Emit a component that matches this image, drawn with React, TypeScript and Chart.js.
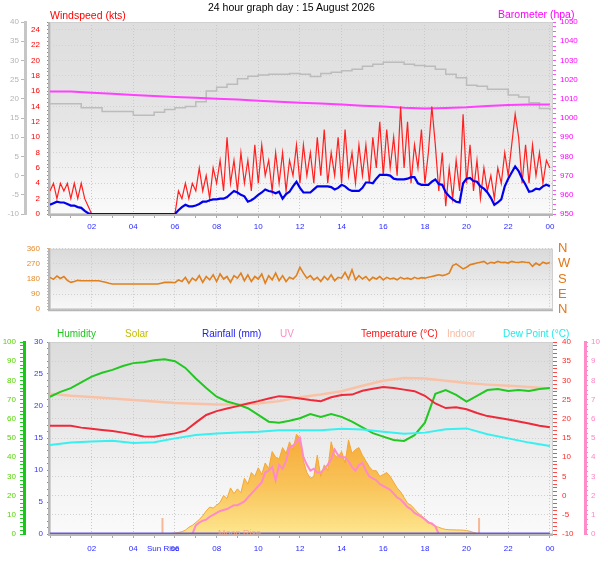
import { useEffect, useRef } from 'react';
import { Chart, registerables } from 'chart.js';

Chart.register(...registerables);

const FONT = "'Liberation Sans', Arial, sans-serif";

// tick labels
const timeLabels = ['02', '04', '06', '08', '10', '12', '14', '16', '18', '20', '22', '00'];
const compassLabels = ['N', 'E', 'S', 'W', 'N'];

// 10 minute samples from 00:00 to 24:00
const windGust = [
  3, 4, 2, 4, 3, 4, 2, 4, 2, 4, 2, 1,
  0, 0, 0, 0, 0, 0, 0, 0, 0, 0, 0, 0,
  0, 0, 0, 0, 0, 0, 0, 0, 0, 0, 0, 0,
  0, 3, 2, 4, 2, 4, 3, 6, 3, 5, 2, 6,
  4, 7, 3, 10, 4, 7, 3, 8, 4, 7, 3, 9,
  4, 9, 5, 7, 3, 8, 4, 8, 3, 7, 5, 9,
  4, 9, 5, 8, 4, 10, 5, 11, 4, 8, 5, 10,
  4, 11, 5, 8, 4, 9, 5, 9, 4, 10, 6, 12,
  5, 11, 6, 10, 5, 14, 6, 12, 4, 9, 6, 11,
  4, 8, 14, 9, 3, 8, 1, 6, 2, 7, 3, 13,
  4, 9, 3, 7, 2, 6, 3, 5, 2, 6, 4, 8,
  5, 9, 13, 10, 4, 9, 4, 9, 5, 8, 4, 7,
  6,
];
const windAvg = [
  1.2, 1.4, 1.6, 1.5, 1.5, 1.3, 1.1, 1.1, 0.9, 0.8, 0.4, 0.1,
  0, 0, 0, 0, 0, 0, 0, 0, 0, 0, 0, 0,
  0, 0, 0, 0, 0, 0, 0, 0, 0, 0, 0, 0,
  0, 0.5, 0.9, 1.2, 1.0, 1.0, 1.1, 1.3, 1.6, 1.6, 1.8, 1.9,
  1.9, 2.0, 2.0, 2.2, 2.6, 3.0, 2.8, 2.5, 2.3, 1.6, 1.8, 2.1,
  2.5, 2.8, 3.2, 3.0, 2.9, 2.7, 2.9, 2.0, 2.6, 2.9, 3.6, 4.2,
  3.4, 2.8, 2.8, 2.8, 3.2, 3.6, 3.6, 3.6, 3.6, 3.5, 3.2, 3.4,
  3.8, 3.6, 3.2, 3.0, 3.0, 3.0, 3.4, 4.1, 4.1, 4.0, 4.6, 5.1,
  5.1, 5.1, 5.0, 4.6, 4.5, 4.5, 4.5, 4.6, 4.8, 4.8, 4.0, 3.8,
  3.8, 3.8, 4.2, 4.5, 3.9, 3.8, 2.8, 2.3, 1.9, 1.6, 1.5, 4.0,
  4.6, 4.7, 4.3, 4.2, 3.6, 3.3, 2.8, 2.1, 1.2, 1.5, 1.9, 3.6,
  4.6, 5.4, 6.2, 5.6, 4.6, 3.8, 2.9, 3.0, 3.3, 3.2, 3.6, 3.8,
  3.6,
];
const windDir = [
  190, 178, 198, 183, 195, 172, 160, 165, 172, 170, 170, 170,
  170, 170, 170, 165, 161, 155, 150, 150, 150, 150, 150, 150,
  150, 150, 150, 150, 150, 150, 150, 150, 155, 160, 160, 160,
  158, 175, 165, 190, 155, 185, 170, 200, 160, 195, 175, 205,
  165, 210, 180, 195, 160, 200, 185, 215, 170, 205, 165, 195,
  180, 210, 155, 200, 175, 215, 170, 200, 165, 190, 180, 200,
  250, 215, 185, 200, 175, 190, 165, 195, 175, 205, 170, 190,
  185, 220, 180, 235, 175, 200, 180, 195, 170, 190, 180, 195,
  175, 190, 180, 185, 175, 190, 180, 185, 178, 190, 182, 188,
  185, 190, 195, 200, 205, 200, 205, 215, 260, 270, 255, 240,
  250, 265, 270, 275, 280, 285, 270, 280, 275, 285, 278, 280,
  275, 285, 280, 278, 283, 280, 278, 255, 275, 262, 280, 272,
  278,
];
const solar = [
  0, 0, 0, 0, 0, 0, 0, 0, 0, 0, 0, 0,
  0, 0, 0, 0, 0, 0, 0, 0, 0, 0, 0, 0,
  0, 0, 0, 0, 0, 0, 0, 0, 0, 0, 0, 3,
  5, 8, 12, 20, 35, 45, 60, 75, 95, 120, 140, 135,
  150, 165, 200, 185, 240, 210, 235, 215, 290, 260, 320, 300,
  345, 310, 370, 340, 430, 400, 390, 450, 420, 480, 440, 520,
  500, 380, 320, 290, 300, 410, 300, 360, 330, 480, 410, 400,
  430, 370, 490, 420, 440, 450, 410, 380, 350, 330, 330, 300,
  310, 320, 300, 270, 240, 220, 190, 160, 150, 130, 110, 95,
  80, 65, 50, 40, 35, 28, 24, 22, 22, 21, 21, 20,
  18, 14, 8, 3, 0, 0, 0, 0, 0, 0, 0, 0,
  0, 0, 0, 0, 0, 0, 0, 0, 0, 0, 0, 0,
  0,
];
const uvIndex = [
  0, 0, 0, 0, 0, 0, 0, 0, 0, 0, 0, 0,
  0, 0, 0, 0, 0, 0, 0, 0, 0, 0, 0, 0,
  0, 0, 0, 0, 0, 0, 0, 0, 0, 0, 0, 0,
  0, 0, 0, 0, 0, 0, 0.45, 0.6, 0.7, 0.75, 0.9, 1.0,
  1.1, 1.2, 1.25, 1.3, 1.4, 1.5, 1.5, 1.6, 1.7, 1.9, 2.1, 2.3,
  2.5, 2.7, 3.2, 3.3, 3.5, 2.8, 3.6, 3.4, 3.8, 4.5, 4.6, 4.8,
  5.0, 4.0, 3.6, 3.3, 3.4, 3.2, 3.2, 3.4, 3.6, 3.9, 4.4, 4.1,
  4.0, 4.0, 3.8, 3.5, 3.3, 3.6, 3.7, 3.3, 3.0, 2.9, 2.8, 2.6,
  2.5, 2.4, 2.3, 2.1, 1.9, 1.8, 1.6, 1.4, 1.3, 1.1, 1.0, 0.9,
  0.75, 0.6, 0.55, 0.4, 0, 0, 0, 0, 0, 0, 0, 0,
  0, 0, 0, 0, 0, 0, 0, 0, 0, 0, 0, 0,
  0, 0, 0, 0, 0, 0, 0, 0, 0, 0, 0, 0,
  0,
];

// 30 minute samples
const outTempTrace = [
  18.7, 18.7, 18.7, 17.7, 17.7, 16.7, 16.7, 16.7, 15.7, 15.7, 16.5, 17.2,
  17.7, 18.0, 19.2, 22.0, 23.0, 23.8, 25.2, 25.9, 26.2, 26.4, 26.4, 26.6,
  26.4, 25.8, 26.6, 26.9, 27.3, 27.7, 28.5, 29.0, 29.5, 29.5, 29.0, 28.7,
  28.5, 27.7, 26.4, 25.5, 23.5, 23.3, 22.5, 22.5, 21.0, 20.5, 19.0, 17.5,
  17.0,
];
const humidity = [
  71.5, 74, 76, 79, 82, 84, 85.5, 87.5, 89, 89.5, 90.5, 91,
  90, 86.5, 81, 76, 71.5, 69, 67.5, 65.5, 62, 58.5, 58, 59,
  60.3, 62.5, 61, 62.5, 61, 58.5, 55.5, 52.5, 50.7, 49, 48.5, 51.5,
  58, 73, 75, 72.5, 69, 72, 75, 75.5, 74.5, 75, 74.5, 75.5,
  76,
];
const temperature = [
  18.2, 18.2, 18.2, 17.7, 17.4, 17.1, 16.8, 16.4, 15.9, 15.4, 15.3, 15.8,
  16.2, 16.9, 19.0, 21.0, 22.0, 22.7, 23.3, 24.0, 24.6, 25.3, 25.9, 25.7,
  25.3, 24.9, 24.6, 25.6, 26.2, 26.3, 27.3, 27.8, 28.3, 28.0, 27.6, 27.2,
  26.0, 24.0, 22.8, 23.0, 22.5, 21.5, 20.7, 20.3, 19.8, 19.3, 18.8, 18.2,
  17.8,
];

// hourly samples
const barometer = [
  1013.8, 1013.8, 1013.2, 1012.6, 1012.0, 1011.4, 1011.0, 1010.5, 1010.0, 1009.6, 1009.0, 1008.5,
  1008.0, 1007.5, 1007.0, 1006.4, 1006.0, 1005.3, 1005.0, 1005.2, 1005.6, 1006.3, 1006.8, 1007.0,
  1007.0,
];
const indoorTemp = [
  26.5, 26.0, 25.7, 25.3, 24.9, 24.5, 24.1, 23.9, 23.7, 23.7, 24.0, 24.6,
  25.6, 26.3, 27.2, 28.6, 29.9, 30.6, 30.5, 29.9, 29.3, 28.9, 28.6, 28.3,
  27.9,
];
const dewPoint = [
  13.2, 13.8, 14.1, 14.3, 13.7, 13.9, 14.9, 15.8, 16.2, 16.4, 16.6, 17.0,
  17.0, 17.0, 17.4, 17.2, 16.6, 16.1, 16.4, 17.3, 17.5, 16.0, 14.9, 13.8,
  12.9,
];
const rainfall = [
  0, 0, 0, 0, 0, 0, 0, 0, 0, 0, 0, 0,
  0, 0, 0, 0, 0, 0, 0, 0, 0, 0, 0, 0,
  0,
];

// sunrise / sunset, hours
const sunEvents = [5.4, 20.6];

const legendNames = ['Humidity', 'Solar', 'Rainfall (mm)', 'UV', 'Temperature (°C)', 'Indoor', 'Dew Point (°C)'];
const legendColors = ['#1fc41f', '#c4bc00', '#2020f0', '#ff8cc8', '#ff1414', '#f8bba0', '#22eaea'];
const legendLeft = [57, 125, 202, 280, 361, 447, 503];

const pts = (values: number[], minutes: number) =>
  values.map((v, i) => ({ x: (i * minutes) / 60, y: v }));

const multipleOf = (v: number, n: number) => Math.abs(v / n - Math.round(v / n)) < 1e-6;

const panelBackground = (stops: [number, string][]) => ({
  id: 'panelBackground',
  beforeDraw(chart: Chart) {
    const { ctx, chartArea: a } = chart;
    const g = ctx.createLinearGradient(0, a.top, 0, a.bottom);
    stops.forEach(([o, c]) => g.addColorStop(o, c));
    ctx.save();
    ctx.fillStyle = g;
    ctx.fillRect(a.left, a.top, a.width, a.height);
    ctx.restore();
  },
  beforeDatasetsDraw(chart: Chart) {
    const { ctx, chartArea: a } = chart;
    ctx.save();
    ctx.strokeStyle = '#d0d0d0';
    ctx.lineWidth = 1;
    ctx.strokeRect(a.left + 0.5, a.top + 0.5, a.width - 1, a.height - 1);
    ctx.strokeStyle = '#b6b6b6';
    ctx.lineWidth = 2;
    ctx.beginPath();
    ctx.moveTo(a.left - 1, a.top);
    ctx.lineTo(a.left - 1, a.bottom + 1);
    ctx.lineTo(a.right, a.bottom + 1);
    ctx.stroke();
    ctx.restore();
  },
});

const hourAxis = (labels: boolean, height: number, padding: number) => ({
  type: 'linear',
  position: 'bottom',
  min: 0,
  max: 24.15,
  afterFit: (s: any) => {
    s.height = height;
  },
  ticks: {
    display: labels,
    stepSize: 1,
    autoSkip: false,
    includeBounds: false,
    maxRotation: 0,
    padding,
    color: '#2b2bff',
    font: { family: FONT, size: 8 },
    callback: (v: any) => {
      const n = Number(v);
      return n > 0 && n % 2 === 0 ? timeLabels[n / 2 - 1] : '';
    },
  },
  grid: {
    color: (c: any) => (c.tick && c.tick.value % 2 === 0 ? '#c9c9c9' : 'rgba(0,0,0,0)'),
    drawTicks: labels,
    tickLength: 4,
    tickColor: '#a8a8a8',
  },
  border: { display: false, dash: [1, 2] },
});

type Side = {
  position: 'left' | 'right';
  weight: number;
  min: number;
  max: number;
  step: number;
  every: number;
  width: number;
  color: string;
  tickColor: string;
  tickLength: number;
  padding: number;
  grid?: string;
  border?: [string, number];
  labels?: string[];
  size?: number;
};

const sideAxis = (o: Side) => ({
  type: 'linear',
  position: o.position,
  weight: o.weight,
  min: o.min,
  max: o.max,
  afterFit: (s: any) => {
    s.width = o.width;
  },
  ticks: {
    stepSize: o.step,
    autoSkip: false,
    padding: o.padding,
    color: o.color,
    font: { family: FONT, size: o.size ?? 8 },
    callback: (v: any) => {
      const n = Number(v);
      if (!multipleOf(n, o.every)) return '';
      return o.labels ? o.labels[Math.round(n / o.every)] : String(n);
    },
  },
  grid: {
    drawOnChartArea: !!o.grid,
    color: (c: any) => (o.grid && c.tick && multipleOf(c.tick.value, o.every) ? o.grid : 'rgba(0,0,0,0)'),
    tickColor: o.tickColor,
    tickLength: o.tickLength,
    drawTicks: o.tickLength > 0,
  },
  border: o.border
    ? { display: true, color: o.border[0], width: o.border[1], dash: [1, 2] }
    : { display: false, dash: [1, 2] },
});

const baseOptions = (padding: { top: number; bottom: number }) => ({
  animation: false,
  responsive: false,
  events: [],
  layout: { padding: { top: padding.top, bottom: padding.bottom, left: 0, right: 0 } },
  elements: { point: { radius: 0 }, line: { tension: 0 } },
  plugins: { legend: { display: false }, tooltip: { enabled: false } },
});

const windConfig = (): any => ({
  type: 'line',
  data: {
    datasets: [
      { data: pts(windAvg, 10), yAxisID: 'yWind', borderColor: '#0000ee', borderWidth: 2.2 },
      { data: pts(windGust, 10), yAxisID: 'yWind', borderColor: '#ff2020', borderWidth: 1.2 },
      { data: pts(barometer, 60), yAxisID: 'yBaro', borderColor: '#ff40ff', borderWidth: 2 },
      { data: pts(outTempTrace, 30), yAxisID: 'yTemp', borderColor: '#bcbcbc', borderWidth: 1.5, stepped: true },
    ],
  },
  options: {
    ...baseOptions({ top: 22, bottom: 0 }),
    scales: {
      x: hourAxis(true, 22, 4),
      yTemp: sideAxis({
        position: 'left', weight: 2, min: -10, max: 40, step: 5, every: 5, width: 25,
        color: '#b4b4b4', tickColor: '#b8b8b8', tickLength: 4, padding: 2, border: ['#c6c6c6', 3],
      }),
      yWind: sideAxis({
        position: 'left', weight: 1, min: 0, max: 25, step: 0.5, every: 2, width: 25,
        color: '#ff0000', tickColor: '#ff5a5a', tickLength: 3, padding: 7, grid: '#d2d2d2',
      }),
      yBaro: sideAxis({
        position: 'right', weight: 1, min: 950, max: 1050, step: 2.5, every: 10, width: 55,
        color: '#ff00ff', tickColor: '#ff50ff', tickLength: 3, padding: 4,
      }),
    },
  },
  plugins: [panelBackground([[0, '#dedede'], [0.5, '#e5e5e5'], [0.75, '#f0f0f0'], [1, '#fafafa']])],
});

const directionConfig = (): any => ({
  type: 'line',
  data: {
    datasets: [{ data: pts(windDir, 10), yAxisID: 'yDir', borderColor: '#e0801e', borderWidth: 1.6 }],
  },
  options: {
    ...baseOptions({ top: 7, bottom: 8 }),
    scales: {
      x: hourAxis(false, 0, 0),
      yDir: sideAxis({
        position: 'left', weight: 1, min: 0, max: 360, step: 18, every: 90, width: 50,
        color: '#e58a2c', tickColor: '#f0a860', tickLength: 3, padding: 7, grid: '#d0d0d0',
      }),
      yCompass: sideAxis({
        position: 'right', weight: 1, min: 0, max: 360, step: 90, every: 90, width: 55,
        color: '#e07818', tickColor: '#ffffff', tickLength: 0, padding: 5, labels: compassLabels, size: 13,
      }),
    },
  },
  plugins: [panelBackground([[0, '#dadada'], [0.45, '#e6e6e6'], [1, '#f8f8f8']])],
});

const weatherConfig = (): any => ({
  type: 'line',
  data: {
    datasets: [
      { data: pts(rainfall, 60), yAxisID: 'yRain', borderColor: '#6a58dc', borderWidth: 3 },
      { data: pts(dewPoint, 60), yAxisID: 'yTemp', borderColor: '#38f0f0', borderWidth: 2 },
      { data: pts(temperature, 30), yAxisID: 'yTemp', borderColor: '#ee2a3a', borderWidth: 2 },
      { data: pts(humidity, 30), yAxisID: 'yHum', borderColor: '#22c822', borderWidth: 2 },
      { data: pts(indoorTemp, 60), yAxisID: 'yTemp', borderColor: '#f9c2a6', borderWidth: 2.5 },
      { data: pts(uvIndex, 10), yAxisID: 'yUV', borderColor: '#ff8ac8', borderWidth: 2 },
      {
        data: sunEvents.flatMap((t) => [{ x: t, y: 0 }, { x: t, y: 8.3 }, { x: t, y: NaN }]),
        yAxisID: 'yHum',
        borderColor: '#f7b898',
        borderWidth: 2,
      },
      {
        data: pts(solar, 10),
        yAxisID: 'ySolar',
        borderColor: '#f3a838',
        borderWidth: 1,
        fill: 'origin',
        backgroundColor: (c: any) => {
          const a = c.chart.chartArea;
          if (!a) return '#f8c050';
          const g = c.chart.ctx.createLinearGradient(0, a.bottom - 105, 0, a.bottom);
          g.addColorStop(0, '#f6a633');
          g.addColorStop(0.55, '#f9c45a');
          g.addColorStop(1, '#fde68e');
          return g;
        },
      },
    ],
  },
  options: {
    ...baseOptions({ top: 20, bottom: 0 }),
    scales: {
      x: hourAxis(true, 27, 6),
      yHum: sideAxis({
        position: 'left', weight: 2, min: 0, max: 100, step: 2, every: 10, width: 24,
        color: '#55d400', tickColor: '#22cc22', tickLength: 4, padding: 4, grid: '#d0d0d0', border: ['#18c818', 3],
      }),
      yRain: sideAxis({
        position: 'left', weight: 1, min: 0, max: 30, step: 1, every: 5, width: 26,
        color: '#3434ff', tickColor: '#7a7aff', tickLength: 3, padding: 4,
      }),
      yTemp: sideAxis({
        position: 'right', weight: 1, min: -10, max: 40, step: 1, every: 5, width: 32,
        color: '#ff2a2a', tickColor: '#ff4a4a', tickLength: 4, padding: 5,
      }),
      yUV: sideAxis({
        position: 'right', weight: 2, min: 0, max: 10, step: 0.25, every: 1, width: 23,
        color: '#ff86c4', tickColor: '#ff86c4', tickLength: 3, padding: 3, border: ['#ff8cc8', 3],
      }),
      ySolar: { display: false, min: 0, max: 1000 },
    },
  },
  plugins: [panelBackground([[0, '#dcdcdc'], [0.4, '#e7e7e7'], [0.7, '#f3f3f3'], [1, '#fafafa']])],
});

const ChartCanvas = ({ top, height, make }: { top: number; height: number; make: () => any }) => {
  const ref = useRef<HTMLCanvasElement | null>(null);

  useEffect(() => {
    if (!ref.current) return;
    const chart = new Chart(ref.current, make());
    return () => chart.destroy();
  }, [make]);

  return (
    <canvas
      ref={ref}
      width={608}
      height={height}
      style={{ position: 'absolute', left: 0, top, width: 608, height, display: 'block' }}
    />
  );
};

const Label = ({ x, y, size, color, text, opacity = 1 }: { x: number; y: number; size: number; color: string; text: string; opacity?: number }) => (
  <div
    style={{
      position: 'absolute',
      left: x,
      top: y - size * 0.49,
      fontFamily: FONT,
      fontSize: size,
      lineHeight: `${size}px`,
      color,
      opacity,
      whiteSpace: 'nowrap',
    }}
  >
    {text}
  </div>
);

const App = () => (
  <div style={{ position: 'absolute', left: 0, top: 0, width: 608, height: 561, background: '#ffffff', overflow: 'hidden' }}>
    <ChartCanvas top={0} height={236} make={windConfig} />
    <ChartCanvas top={236} height={86} make={directionConfig} />
    <ChartCanvas top={322} height={239} make={weatherConfig} />

    <Label x={208} y={7.5} size={10.5} color="#000000" text="24 hour graph day : 15 August 2026" />
    <Label x={50} y={15} size={10.5} color="#ff0000" text="Windspeed (kts)" />
    <Label x={498} y={14.2} size={10.5} color="#ff00ff" text="Barometer (hpa)" />
    {legendNames.map((name, i) => (
      <Label key={name} x={legendLeft[i]} y={333.7} size={10} color={legendColors[i]} text={name} />
    ))}
    <Label x={147} y={548.5} size={8} color="#2b2bff" text="Sun Rise" />
    <Label x={218} y={533} size={9} color="#f2a48c" text="Moon Rise" opacity={0.85} />
  </div>
);

export default App;
